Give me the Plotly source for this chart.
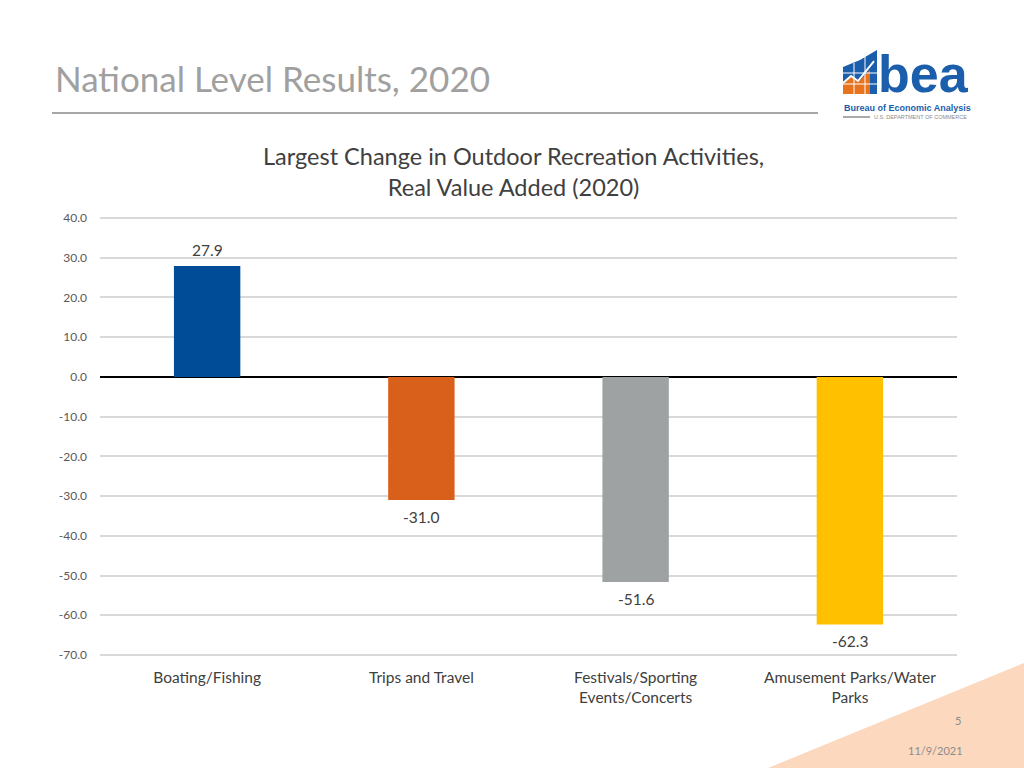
import plotly.graph_objects as go

categories = ["Boating/Fishing", "Trips and Travel", "Festivals/Sporting<br>Events/Concerts", "Amusement Parks/Water<br>Parks"]
values = [27.9, -31.0, -51.6, -62.3]
bar_colors = ["#004C97", "#D9601A", "#9EA2A2", "#FFC000"]
tick_vals = [40, 30, 20, 10, 0, -10, -20, -30, -40, -50, -60, -70]
tick_text = [f"{v:.1f}" for v in tick_vals]

W, H = 1024, 768
L, R, T, B = 100, 67, 216, 111
PW, PH = W - L - R, H - T - B

def px(x):
    return (x - L) / PW

def py(y):
    return (H - B - y) / PH

def path(pts, close=True):
    s = "M " + " L ".join(f"{px(x):.5f},{py(y):.5f}" for x, y in pts)
    return s + (" Z" if close else "")

FONT = "Lato"

fig = go.Figure()
fig.add_trace(go.Bar(
    x=categories, y=values,
    marker=dict(color=bar_colors, line=dict(width=0)),
    width=0.31,
    hoverinfo="x+y",
))

# data labels placed from the data values
label_annotations = [
    dict(x=c, y=v, xref="x", yref="y", text=f"{v:.1f}", showarrow=False,
         yanchor="middle", xanchor="center", yshift=(16 if v >= 0 else -17),
         font=dict(family=FONT, size=15.5, color="#404040"))
    for c, v in zip(categories, values)
]

shapes = [
    dict(type="path", xref="paper", yref="paper", layer="below",
         path=path([(768, 768), (1024, 663), (1024, 768)]),
         fillcolor="#FBD8BE", line=dict(width=0)),
    dict(type="line", xref="paper", yref="paper",
         x0=px(52), x1=px(818), y0=py(113), y1=py(113),
         line=dict(color="#A6A6A6", width=2)),
    dict(type="path", xref="paper", yref="paper",
         path=path([(843, 67), (860, 60), (877, 50), (877, 94), (843, 94)]),
         fillcolor="#1B5EAB", line=dict(width=0)),
    dict(type="path", xref="paper", yref="paper",
         path=path([(843, 84), (851, 77), (858, 82), (870, 70), (870, 94), (843, 94)]),
         fillcolor="#E8731E", line=dict(width=0)),
    dict(type="path", xref="paper", yref="paper",
         path=path([(843, 83), (851, 76), (858, 81), (874, 61)], close=False),
         fillcolor="rgba(0,0,0,0)", line=dict(color="white", width=2)),
    dict(type="line", xref="paper", yref="paper", x0=px(854), x1=px(854), y0=py(63), y1=py(94),
         line=dict(color="white", width=1)),
    dict(type="line", xref="paper", yref="paper", x0=px(865), x1=px(865), y0=py(57), y1=py(94),
         line=dict(color="white", width=1)),
    dict(type="line", xref="paper", yref="paper", x0=px(843), x1=px(877), y0=py(73), y1=py(73),
         line=dict(color="white", width=1)),
    dict(type="line", xref="paper", yref="paper", x0=px(843), x1=px(877), y0=py(84), y1=py(84),
         line=dict(color="white", width=1)),
    dict(type="line", xref="paper", yref="paper", x0=px(843), x1=px(870), y0=py(117), y1=py(117),
         line=dict(color="#8C8C8C", width=1.5)),
]

annotations = label_annotations + [
    dict(text="National Level Results, 2020", xref="paper", yref="paper",
         x=px(53), y=py(78), xanchor="left", yanchor="middle", showarrow=False,
         font=dict(family=FONT, size=35, color="#A0A0A0")),
    dict(text="Largest Change in Outdoor Recreation Activities,<br>Real Value Added (2020)",
         xref="paper", yref="paper", x=px(513), y=py(171), xanchor="center", yanchor="middle",
         showarrow=False, font=dict(family=FONT, size=23.5, color="#404040")),
    dict(text="<b>bea</b>", xref="paper", yref="paper", x=px(877), y=py(44),
         xanchor="left", yanchor="top", borderpad=0,
         showarrow=False, font=dict(family="Liberation Sans", size=52, color="#1B5EAB")),
    dict(text="<b>Bureau of Economic Analysis</b>", xref="paper", yref="paper",
         x=px(972), y=py(107.5), xanchor="right", yanchor="middle", borderpad=0, showarrow=False,
         font=dict(family="Liberation Sans", size=9, color="#1B5EAB")),
    dict(text="U.S. DEPARTMENT OF COMMERCE", xref="paper", yref="paper",
         x=px(873), y=py(117.5), xanchor="left", yanchor="middle", borderpad=0, showarrow=False,
         font=dict(family="Liberation Sans", size=5.5, color="#8C8C8C")),
    dict(text="5", xref="paper", yref="paper", x=px(958), y=py(720),
         xanchor="center", yanchor="middle", showarrow=False,
         font=dict(family=FONT, size=11, color="#8C8C8C")),
    dict(text="11/9/2021", xref="paper", yref="paper", x=px(935), y=py(750),
         xanchor="center", yanchor="middle", showarrow=False,
         font=dict(family=FONT, size=11, color="#8C8C8C")),
]

fig.update_layout(
    width=W, height=H,
    margin=dict(l=L, r=R, t=T, b=B, pad=0),
    paper_bgcolor="white", plot_bgcolor="white",
    showlegend=False,
    shapes=shapes,
    annotations=annotations,
    xaxis=dict(showgrid=False, showline=False, ticks="", ticklabelstandoff=9,
               tickfont=dict(family=FONT, size=15.5, color="#404040"), fixedrange=True),
    yaxis=dict(range=[-70.5, 40.5], tickvals=tick_vals, ticktext=tick_text, showgrid=True,
               gridcolor="#D9D9D9", gridwidth=1.5, zeroline=True, zerolinecolor="#000000",
               zerolinewidth=1.5, showline=False, ticks="", ticklabelstandoff=12,
               tickfont=dict(family=FONT, size=12, color="#595959"), fixedrange=True),
)

fig.write_html("out.html", config={"displayModeBar": False},
               post_script="document.body.style.margin='0';document.body.style.overflow='hidden';")
